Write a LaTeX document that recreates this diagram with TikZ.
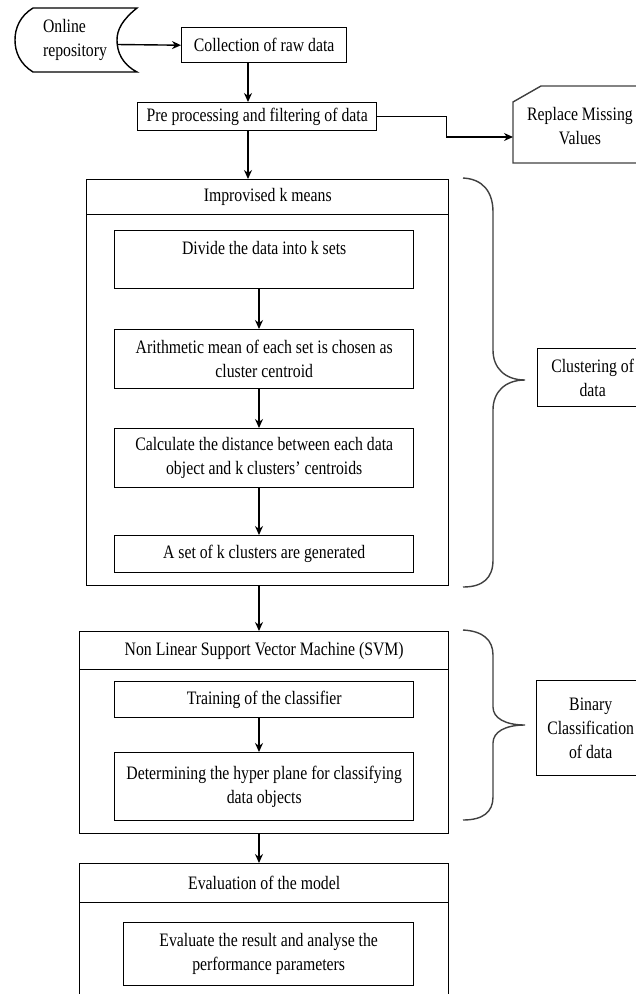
\documentclass[tikz,border=0pt]{standalone}
\usepackage{fontspec}
\setmainfont{Liberation Serif}[FakeStretch=0.83]
\usepackage{tikz}
\usetikzlibrary{shapes.geometric, arrows.meta, positioning, calc}
\newcommand{\lblfont}{\fontsize{19}{24}\selectfont}
\tikzstyle{process} = [rectangle, anchor=north west, draw=black, line width=1.4pt, text centered, align=center, inner sep=0pt, font=\lblfont]
\tikzstyle{plain} = [draw=none, align=center, inner sep=0pt, font=\lblfont]
\tikzstyle{arrow} = [line width=1.4pt,->,>={Stealth[length=9pt, width=8pt]}]
\tikzstyle{curly} = [line width=1.4pt, draw=black!75]

\begin{document}
\begin{tikzpicture}[x=1pt, y=-1pt]
\useasboundingbox (0,0) rectangle (635,994);
\coordinate (spineA) at (248,0);
\coordinate (spineB) at (259,0);

% Nodes
\node (repo) [plain, align=left] at (75,40) {Online\\repository};
\node (collect) [process, minimum width=165pt, minimum height=35pt] at (181,27) {Collection of raw data};
\node (prep) [process, minimum width=239pt, minimum height=28pt] at (137,102) {Pre processing and filtering of data};
\node (replace) [plain] at (580,126) {Replace Missing\\Values};

\node (kmeans) [process, minimum width=362pt, minimum height=406pt] at (86,179) {};
\node (kmhead) [process, minimum width=362pt, minimum height=35pt] at (86,179) {Improvised k means};
\node (divide) [process, minimum width=299pt, minimum height=58pt] at (114,230) {Divide the data into k sets\\\mbox{}};
\node (arith) [process, minimum width=299pt, minimum height=59pt] at (114,329) {Arithmetic mean of each set is chosen as\\cluster centroid};
\node (calc) [process, minimum width=299pt, minimum height=59pt] at (114,428) {Calculate the distance between each data\\object and k clusters' centroids};
\node (gen) [process, minimum width=299pt, minimum height=37pt] at (114,535) {A set of k clusters are generated};

\node (svm) [process, minimum width=369pt, minimum height=202pt] at (79,631) {};
\node (svmhead) [process, minimum width=369pt, minimum height=38pt] at (79,631) {Non Linear Support Vector Machine (SVM)};
\node (train) [process, minimum width=299pt, minimum height=36pt] at (114,681) {Training of the classifier};
\node (determ) [process, minimum width=299pt, minimum height=68pt] at (114,752) {Determining the hyper plane for classifying\\data objects};

\node (eval) [process, minimum width=369pt, minimum height=200pt] at (79,863) {};
\node (evalhead) [process, minimum width=369pt, minimum height=39pt] at (79,863) {Evaluation of the model};
\node (evalin) [process, minimum width=290pt, minimum height=63pt] at (123,922) {Evaluate the result and analyse the\\performance parameters};

\node (cluster) [process, minimum width=110pt, minimum height=58pt] at (537,348) {Clustering of\\data};
\node (binary) [process, minimum width=108pt, minimum height=95pt] at (536,680) {Binary\\Classification\\of data};

% Outlines
\draw [line width=1.4pt] (33,8) -- (137,8) .. controls (122,20) and (117,30) .. (117,40)
  .. controls (117,52) and (122,64) .. (137,72) -- (33,72)
  .. controls (20,64) and (15,52) .. (15,40) .. controls (15,28) and (20,16) .. (33,8) -- cycle;
\draw [curly] (513,163) -- (513,102) -- (541,86) -- (660,86) -- (660,163) -- cycle;

% Braces
\draw [curly] (463,178) .. controls (483,179) and (493,192) .. (493,212) -- (493,350)
  .. controls (493,368) and (505,380) .. (525,380) .. controls (505,380) and (493,392) .. (493,410)
  -- (493,560) .. controls (493,578) and (483,587) .. (463,587);
\draw [curly] (463,630) .. controls (483,631) and (493,640) .. (493,655) -- (493,707)
  .. controls (493,718) and (505,725) .. (525,725) .. controls (505,725) and (493,732) .. (493,743)
  -- (493,797) .. controls (493,812) and (483,820) .. (463,820);

% Arrows
\coordinate (repout) at (117,44.5);
\coordinate (repin) at (513,137);
\draw [arrow] (repout) -- (collect.west);
\draw [arrow] (collect.south -| spineA) -- (prep.north -| spineA);
\draw [arrow] (prep.east) -- ++(69,0) |- (repin);
\draw [arrow] (prep.south -| spineA) -- (kmhead.north -| spineA);
\draw [arrow] (divide.south -| spineB) -- (arith.north -| spineB);
\draw [arrow] (arith.south -| spineB) -- (calc.north -| spineB);
\draw [arrow] (calc.south -| spineB) -- (gen.north -| spineB);
\draw [arrow] (kmeans.south -| spineB) -- (svmhead.north -| spineB);
\draw [arrow] (train.south -| spineB) -- (determ.north -| spineB);
\draw [arrow] (svm.south -| spineB) -- (evalhead.north -| spineB);
\end{tikzpicture}
\end{document}
